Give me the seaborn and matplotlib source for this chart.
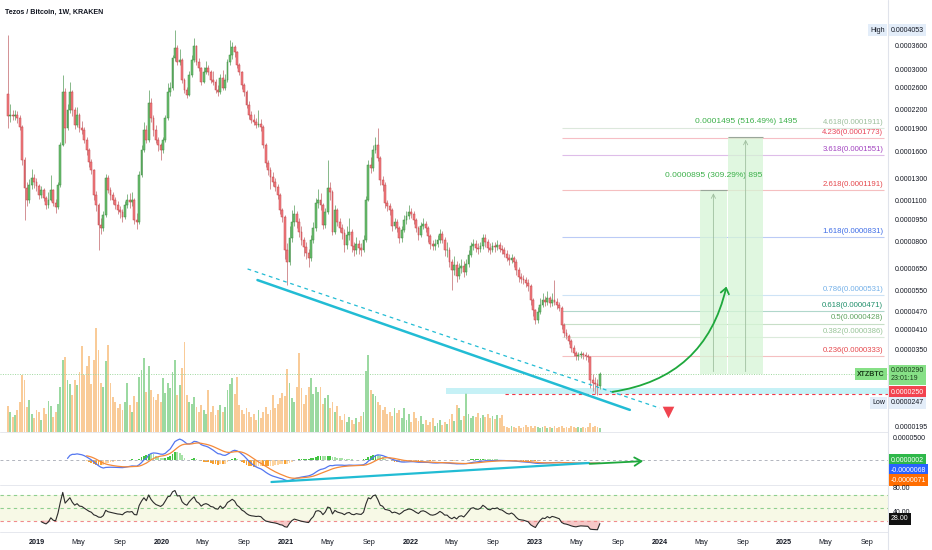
import numpy as np
import pandas as pd
import seaborn as sns
import matplotlib.pyplot as plt
import matplotlib.dates as mdates
from matplotlib.patches import FancyArrowPatch, Rectangle
from matplotlib.lines import Line2D
from matplotlib.ticker import FixedLocator, NullLocator

sns.set_style("white")
plt.rcParams['font.family'] = ['Liberation Sans', 'DejaVu Sans']

# XTZ/BTC weekly candles (Kraken), prices in 1e-7 BTC, first week 2018-10-08
first_open = 2480
close = [
    2095, 2111, 2095, 2111, 2063, 1925, 1496, 1207, 1101, 1235,
    1303, 1263, 1226, 1144, 1189, 1118, 1060, 1101, 1189, 1076,
    1044, 1235, 1678, 2517, 1911, 2193, 2517, 2193, 1955, 2111,
    1911, 1882, 1743, 1615, 1474, 1385, 1144, 1060, 909, 888,
    982, 1303, 1189, 1144, 1101, 1060, 1020, 1005, 967, 1060,
    1101, 1084, 1101, 945, 930, 1333, 1615, 1882, 1743, 2314,
    2063, 1882, 1743, 1678, 1615, 1743, 2063, 2517, 2597, 3266,
    3525, 3168, 3216, 2760, 2556, 2460, 2867, 3216, 3580, 3168,
    3025, 2718, 2934, 3025, 2934, 2760, 2718, 2556, 2517, 2803,
    2597, 2760, 3168, 3342, 3550, 3420, 3095, 2934, 2656, 2517,
    2279, 2111, 2032, 2000, 1955, 1970, 1925, 1678, 1462, 1385,
    1313, 1263, 1216, 1144, 1020, 967, 751, 685, 823, 930,
    990, 930, 862, 811, 769, 734, 706, 811, 888, 1076,
    1101, 1060, 909, 1005, 1207, 1171, 862, 1020, 930, 888,
    855, 780, 842, 862, 774, 751, 786, 762, 751, 811,
    1101, 1440, 1407, 1615, 1678, 1519, 1283, 1235, 1076, 1052,
    1020, 902, 930, 888, 823, 875, 945, 975, 1005, 990,
    945, 888, 842, 902, 916, 888, 836, 786, 774, 786,
    811, 848, 811, 751, 751, 685, 644, 669, 615, 654,
    664, 634, 674, 723, 774, 786, 762, 757, 774, 823,
    798, 762, 751, 774, 769, 780, 757, 751, 729, 706,
    696, 706, 685, 644, 611, 602, 597, 583, 570, 512,
    474, 439, 467, 493, 512, 504, 520, 500, 512, 504,
    493, 481, 423, 398, 389, 374, 355, 341, 333, 336,
    338, 336, 333, 331, 277, 271, 269, 265, 290,
]
high = [
    3895, 2300, 2200, 2190, 2180, 2110, 1960, 1530, 1260, 1290,
    1400, 1340, 1300, 1250, 1230, 1210, 1140, 1170, 1330, 1200,
    1110, 1260, 1720, 2870, 2600, 2300, 2720, 2560, 2250, 2250,
    2150, 2010, 1920, 1780, 1640, 1510, 1400, 1180, 1080, 960,
    1010, 1340, 1330, 1220, 1170, 1130, 1090, 1050, 1030, 1090,
    1150, 1160, 1170, 1120, 1000, 1380, 1680, 2000, 1950, 2556,
    2400, 2110, 1950, 1790, 1700, 1790, 2110, 2700, 2720, 3350,
    4053, 3620, 3500, 3260, 2800, 2620, 2950, 3350, 3800, 3620,
    3260, 3060, 3050, 3200, 3100, 2980, 2950, 2780, 2650, 2900,
    2980, 2880, 3250, 3750, 3680, 3620, 3450, 3140, 2960, 2700,
    2560, 2350, 2180, 2120, 2060, 2200, 2050, 1960, 1700, 1500,
    1420, 1360, 1300, 1250, 1160, 1040, 980, 790, 900, 1020,
    1060, 1010, 960, 900, 830, 800, 760, 840, 930, 1120,
    1200, 1160, 1080, 1040, 1496, 1260, 1190, 1060, 1040, 960,
    920, 880, 900, 960, 880, 800, 830, 810, 790, 840,
    1140, 1500, 1530, 1680, 1780, 1911, 1540, 1320, 1260, 1100,
    1080, 1040, 960, 950, 900, 900, 980, 1010, 1060, 1040,
    1010, 960, 900, 930, 960, 940, 900, 850, 810, 820,
    840, 880, 870, 830, 800, 770, 700, 720, 690, 680,
    700, 690, 700, 750, 800, 820, 810, 790, 800, 850,
    850, 820, 790, 800, 800, 810, 800, 780, 770, 750,
    730, 730, 720, 700, 660, 630, 620, 610, 600, 580,
    520, 480, 485, 520, 540, 530, 550, 530, 540, 597,
    520, 505, 490, 430, 410, 395, 380, 362, 348, 345,
    348, 345, 345, 340, 335, 290, 285, 280, 296,
]
low = [
    1912, 2000, 2030, 2040, 1990, 1880, 1440, 945, 1050, 1080,
    1200, 1210, 1180, 1110, 1120, 1090, 1030, 1040, 1090, 1050,
    1000, 1030, 1220, 1660, 1700, 1880, 2150, 2100, 1900, 1930,
    1850, 1830, 1700, 1560, 1420, 1340, 1100, 1010, 751, 850,
    870, 970, 1160, 1100, 1070, 1030, 990, 960, 930, 950,
    1040, 1040, 1050, 920, 880, 920, 1310, 1590, 1700, 1720,
    2000, 1800, 1700, 1600, 1496, 1580, 1720, 2040, 2440, 2560,
    3200, 3100, 3100, 2700, 2500, 2400, 2440, 2820, 3180, 3100,
    2950, 2650, 2690, 2880, 2870, 2700, 2650, 2500, 2450, 2480,
    2550, 2560, 2720, 3100, 3250, 3300, 3020, 2860, 2580, 2450,
    2220, 2050, 1990, 1950, 1910, 1920, 1870, 1640, 1420, 1330,
    1200, 1230, 1180, 1110, 990, 930, 700, 574, 670, 800,
    900, 890, 830, 780, 720, 700, 660, 690, 790, 870,
    1040, 1020, 880, 890, 990, 1100, 840, 850, 900, 860,
    820, 740, 760, 810, 740, 720, 730, 730, 720, 740,
    800, 1090, 1350, 1380, 1580, 1480, 1240, 1180, 1040, 1010,
    980, 870, 880, 860, 790, 800, 860, 920, 950, 960,
    920, 860, 810, 830, 880, 860, 800, 760, 750, 750,
    770, 790, 790, 720, 710, 660, 553, 620, 590, 600,
    630, 610, 620, 660, 710, 750, 740, 730, 740, 760,
    770, 740, 730, 740, 740, 750, 740, 730, 710, 690,
    670, 680, 660, 620, 590, 585, 580, 565, 550, 495,
    455, 425, 430, 460, 485, 490, 495, 485, 490, 495,
    480, 470, 410, 385, 380, 365, 345, 333, 325, 325,
    328, 327, 325, 320, 262, 255, 250, 247, 260,
]
volume = [
    26, 20, 15, 17, 22, 30, 57, 52, 25, 32,
    18, 14, 22, 20, 12, 24, 18, 31, 26, 15,
    20, 28, 45, 72, 75, 52, 48, 37, 52, 47,
    60, 86, 57, 66, 76, 48, 72, 104, 82, 49,
    45, 71, 87, 49, 35, 30, 24, 28, 22, 30,
    49, 27, 20, 36, 30, 55, 62, 74, 40, 66,
    42, 35, 32, 38, 30, 54, 39, 49, 44, 60,
    72, 37, 47, 64, 90, 37, 30, 28, 35, 25,
    20, 27, 22, 18, 42, 20, 26, 17, 22, 27,
    20, 25, 42, 48, 54, 38, 55, 27, 22, 18,
    24, 20, 15, 18, 12, 22, 14, 20, 25, 18,
    22, 37, 24, 28, 34, 39, 36, 63, 49, 34,
    30, 45, 79, 44, 28, 37, 45, 54, 38, 45,
    40, 45, 28, 34, 37, 24, 30, 20, 26, 16,
    12, 18, 10, 15, 12, 8, 14, 10, 16, 20,
    61, 77, 42, 38, 36, 30, 27, 22, 25, 18,
    20, 16, 24, 19, 22, 14, 24, 12, 18, 10,
    20, 14, 11, 16, 8, 12, 7, 10, 14, 6,
    9, 12, 7, 10, 8, 13, 18, 11, 27, 24,
    12, 16, 39, 18, 14, 16, 15, 19, 14, 17,
    15, 18, 14, 16, 13, 17, 14, 17, 6, 5,
    4, 6, 5, 4, 6, 4, 5, 7, 5, 6,
    4, 6, 5, 4, 5, 6, 4, 5, 4, 6,
    4, 5, 6, 4, 5, 4, 6, 5, 4, 5,
    4, 5, 4, 5, 9, 5, 6, 5, 4,
]

# fibonacci extension levels
fib_ratio = ['4.618', '4.236', '3.618', '2.618', '1.618', '0.786', '0.618', '0.5', '0.382', '0.236']
fib_price = [1911, 1773, 1551, 1191, 831, 531, 471, 428, 386, 333]
fib_color = ['#9dbf9d', '#e8455a', '#a243c0', '#e5484d', '#3d6ce6',
             '#74b0e8', '#1f8f6a', '#5fa35f', '#98c498', '#e5484d']

# long position targets
entry = 290
targets = [1185, 1785]
target_text = ['0.0000895 (309.29%) 895', '0.0001495 (516.49%) 1495']

S = 1e-7
W, H = 932, 550
BW = 5.4  # candle width in days

dates = pd.date_range('2018-10-08', periods=len(close), freq='7D')
c = np.array(close) * S
o = np.r_[first_open, close[:-1]] * S
h = np.array(high) * S
l = np.array(low) * S
vol = np.array(volume, dtype=float)
up = c >= o

# indicators from the closes
cs = pd.Series(c)
macd = cs.ewm(span=12, adjust=False).mean() - cs.ewm(span=26, adjust=False).mean()
macd[:25] = np.nan
signal = macd.ewm(span=9, adjust=False).mean()
signal[:33] = np.nan
hist = macd - signal
delta = cs.diff()
gain = delta.clip(lower=0).ewm(alpha=1 / 14, adjust=False).mean()
loss = (-delta.clip(upper=0)).ewm(alpha=1 / 14, adjust=False).mean()
rsi = 100 - 100 / (1 + gain / loss)
rsi[:14] = np.nan
ind = pd.DataFrame({'date': dates, 'macd': macd.values, 'signal': signal.values, 'rsi': rsi.values})

fig = plt.figure(figsize=(W / 100, H / 100), dpi=100)
axw = 888 / W
ax = fig.add_axes([0, 1 - 432 / H, axw, 432 / H])
axm = fig.add_axes([0, 1 - 485 / H, axw, 53 / H])
axr = fig.add_axes([0, 1 - 532 / H, axw, 47 / H])
x0, x1 = pd.Timestamp('2018-09-15'), pd.Timestamp('2025-11-01')
for a in (ax, axm, axr):
    a.set_xlim(x0, x1)
    for s in a.spines.values():
        s.set_visible(False)
    a.tick_params(length=0)

# volume overlay
axv = ax.twinx()
axv.set_ylim(0, max(vol) * 4.15)
axv.set_xlim(x0, x1)
axv.axis('off')
axv.bar(dates, vol, width=BW, color=np.where(up, '#9bd9a1', '#f9cb98'), linewidth=0)
ax.set_zorder(axv.get_zorder() + 1)
ax.patch.set_visible(False)

# candles
ax.set_yscale('log')
ax.set_ylim(186.6 * S, 5092 * S)
wick = np.where(up, '#86b889', '#d39194')
ax.vlines(dates, l, h, colors=wick, lw=0.7, zorder=2)
lo_b = np.minimum(o, c)
hi_b = np.maximum(o, c)
ax.bar(dates, hi_b - lo_b, bottom=lo_b, width=BW, color=np.where(up, '#6cc070', '#f27c80'),
       edgecolor=np.where(up, '#3b8a3f', '#c2444a'), linewidth=0.35, zorder=3)

# price axis labels
ticks = [3600, 3000, 2600, 2200, 1900, 1600, 1300, 1100, 950, 800, 650, 550, 470, 410, 350, 195]
ax.yaxis.tick_right()
ax.yaxis.set_major_locator(FixedLocator([t * S for t in ticks]))
ax.yaxis.set_minor_locator(NullLocator())
ax.set_yticklabels([f'{t * S:.7f}' for t in ticks])
ax.tick_params(axis='y', labelsize=5, labelcolor='#131722', pad=5)
ax.set_xticks([])

# support zone, price lines
d = mdates.date2num
ax.add_patch(Rectangle((d(pd.Timestamp('2022-04-14')), 249 * S), d(x1) - d(pd.Timestamp('2022-04-14')),
                       13 * S, color='#b8eef4', alpha=0.8, lw=0, zorder=1))
ax.axhline(c[-1], color='#9ed89e', lw=0.7, ls=(0, (1, 1.5)), zorder=1)
ax.hlines(250 * S, pd.Timestamp('2022-10-04'), x1, color='#f23645', lw=0.8, ls=(0, (3, 3)), zorder=1)

# trend lines
ax.plot([pd.Timestamp('2020-10-09'), pd.Timestamp('2023-10-06')], [597 * S, 221 * S],
        color='#22bcd4', lw=1.8, zorder=4)
ax.plot([pd.Timestamp('2020-09-10'), pd.Timestamp('2024-01-02')], [650 * S, 224 * S],
        color='#22bcd4', lw=0.9, ls=(0, (3, 3)), zorder=4)

# fibonacci
fx0, fx1 = pd.Timestamp('2023-03-21'), pd.Timestamp('2025-10-20')
for r, p, col in zip(fib_ratio, fib_price, fib_color):
    ax.hlines(p * S, fx0, fx1, color=col, lw=0.8, alpha=0.35, zorder=1)
    ax.annotate(f'{r}({p * S:.7f})', (fx1, p * S), xytext=(-0.5, 1.5), textcoords='offset points',
                ha='right', va='bottom', fontsize=5.6, color=col)

# long position boxes
spans = [(pd.Timestamp('2024-04-28'), pd.Timestamp('2024-07-17')),
         (pd.Timestamp('2024-07-20'), pd.Timestamp('2024-10-31'))]
for (b0, b1), t, txt in zip(spans, targets, target_text):
    ax.add_patch(Rectangle((d(b0), entry * S), d(b1) - d(b0), (t - entry) * S,
                           color='#d6f5d6', alpha=0.75, lw=0, zorder=1))
    ax.hlines(t * S, b0, b1, color='#9aa69a', lw=0.8, zorder=2)
    mid = b0 + (b1 - b0) / 2
    ax.annotate('', xy=(mid, t * S), xytext=(mid, entry * S),
                arrowprops=dict(arrowstyle='->,head_length=0.3,head_width=0.15', color='#9fbf9f', lw=0.6))
    ax.annotate(txt, (mid, t * S), xytext=(0, 11), textcoords='offset points', ha='center',
                va='center', fontsize=6, color='#3cb04a')

arrow = FancyArrowPatch((d(pd.Timestamp('2023-08-08')), 253 * S), (d(pd.Timestamp('2024-07-17')), 580 * S),
                        connectionstyle='arc3,rad=0.35', arrowstyle='->,head_length=4,head_width=3',
                        color='#1ea83c', lw=1.3, zorder=5)
ax.add_patch(arrow)
ax.scatter([pd.Timestamp('2024-01-26')], [217 * S], marker='v', s=70, color='#f0444f', lw=0, zorder=5)

# MACD pane
axm.set_ylim(-5.68e-5, 6.36e-5)
prev = hist.shift(1)
hcol = np.where(hist >= 0, np.where(hist >= prev, '#43c443', '#a8e2a8'),
                np.where(hist < prev, '#f7a02f', '#fcd4a0'))
axm.bar(dates, hist.fillna(0), width=BW, color=hcol, linewidth=0)
axm.axhline(0, color='#b2b5be', lw=0.7, ls=(0, (3, 3)))
sns.lineplot(data=ind, x='date', y='macd', ax=axm, color='#5477f0', lw=0.9)
sns.lineplot(data=ind, x='date', y='signal', ax=axm, color='#f58a3a', lw=0.9)
axm.plot([pd.Timestamp('2020-11-19'), pd.Timestamp('2023-06-08')], [-5.0e-5, -6.8e-6], color='#22bcd4', lw=1.6)
axm.annotate('', xy=(pd.Timestamp('2023-11-22'), -2.3e-6), xytext=(pd.Timestamp('2023-06-02'), -9.1e-6),
             arrowprops=dict(arrowstyle='->,head_length=0.5,head_width=0.3', color='#1ea83c', lw=1.3))
axm.set_xticks([])
axm.set_yticks([])
axm.set_xlabel('')
axm.set_ylabel('')

# RSI pane
axr.set_ylim(11.7, 86.7)
axr.axhspan(30, 70, color='#f7f9e6', lw=0)
axr.axhline(70, color='#8fcf8f', lw=0.8, ls=(0, (3, 3)))
axr.axhline(50, color='#8fcf8f', lw=0.8, ls=(0, (3, 3)))
axr.axhline(30, color='#f08c8c', lw=0.8, ls=(0, (3, 3)))
axr.fill_between(dates, rsi, 30, where=rsi < 30, interpolate=True, color='#f6c8c8', lw=0)
sns.lineplot(data=ind, x='date', y='rsi', ax=axr, color='#2b2b2b', lw=0.8)
axr.set_yticks([])
axr.set_xlabel('')
axr.set_ylabel('')

# time axis
tick_dates, tick_text = [], []
for yr in range(2019, 2026):
    for m, lab in ((1, str(yr)), (5, 'May'), (9, 'Sep')):
        tick_dates.append(pd.Timestamp(yr, m, 1))
        tick_text.append(lab)
axr.set_xticks(tick_dates)
axr.set_xticklabels(tick_text)
axr.tick_params(axis='x', labelsize=5.2, labelcolor='#131722', pad=5)
for t in axr.get_xticklabels():
    if t.get_text().isdigit():
        t.set_fontweight('bold')

# pane borders
for yp in (432, 485, 532):
    fig.add_artist(Line2D([0, axw], [1 - yp / H] * 2, color='#e6e8ee', lw=0.7))
fig.add_artist(Line2D([axw, axw], [0, 1], color='#e0e3eb', lw=0.8))

# right-hand labels
def tag(y_px, text, fc, tc='white', x_px=891, size=5):
    fig.text(x_px / W, 1 - y_px / H, text, fontsize=size, color=tc, ha='left', va='center',
             bbox=dict(boxstyle='square,pad=0.3', fc=fc, ec='none'))

def plain(y_px, text, x_px=893):
    fig.text(x_px / W, 1 - y_px / H, text, fontsize=5, color='#131722', ha='left', va='center')

tag(30, '0.0004053', '#e3edf9', '#131722')
fig.text(885 / W, 1 - 30 / H, 'High', fontsize=5, color='#131722', ha='right', va='center',
         bbox=dict(boxstyle='square,pad=0.3', fc='#e3edf9', ec='none'))
tag(375, '0.0000290\n23:01:19', '#86e086', '#1b3d1b')
fig.text(885 / W, 1 - 374 / H, 'XTZBTC', fontsize=5, color='#1b3d1b', ha='right', va='center',
         weight='bold', bbox=dict(boxstyle='square,pad=0.3', fc='#86e086', ec='none'))
tag(392, '0.0000250', '#f2434f')
tag(403, '0.0000247', '#e3edf9', '#131722')
fig.text(885 / W, 1 - 403 / H, 'Low', fontsize=5, color='#131722', ha='right', va='center',
         bbox=dict(boxstyle='square,pad=0.3', fc='#e3edf9', ec='none'))
plain(438, '0.0000500')
tag(460, '0.0000002', '#2fb84a')
tag(470, '-0.0000068', '#2962ff')
tag(480, '-0.0000071', '#ff6d00')
plain(489, '80.00')
plain(513, '40.00')
tag(519, '28.00', '#111111')

fig.text(5 / W, 1 - 12 / H, 'Tezos / Bitcoin, 1W, KRAKEN', fontsize=5.1, weight='bold',
         color='#131722', ha='left', va='center')

fig.savefig('out.png', dpi=100)
